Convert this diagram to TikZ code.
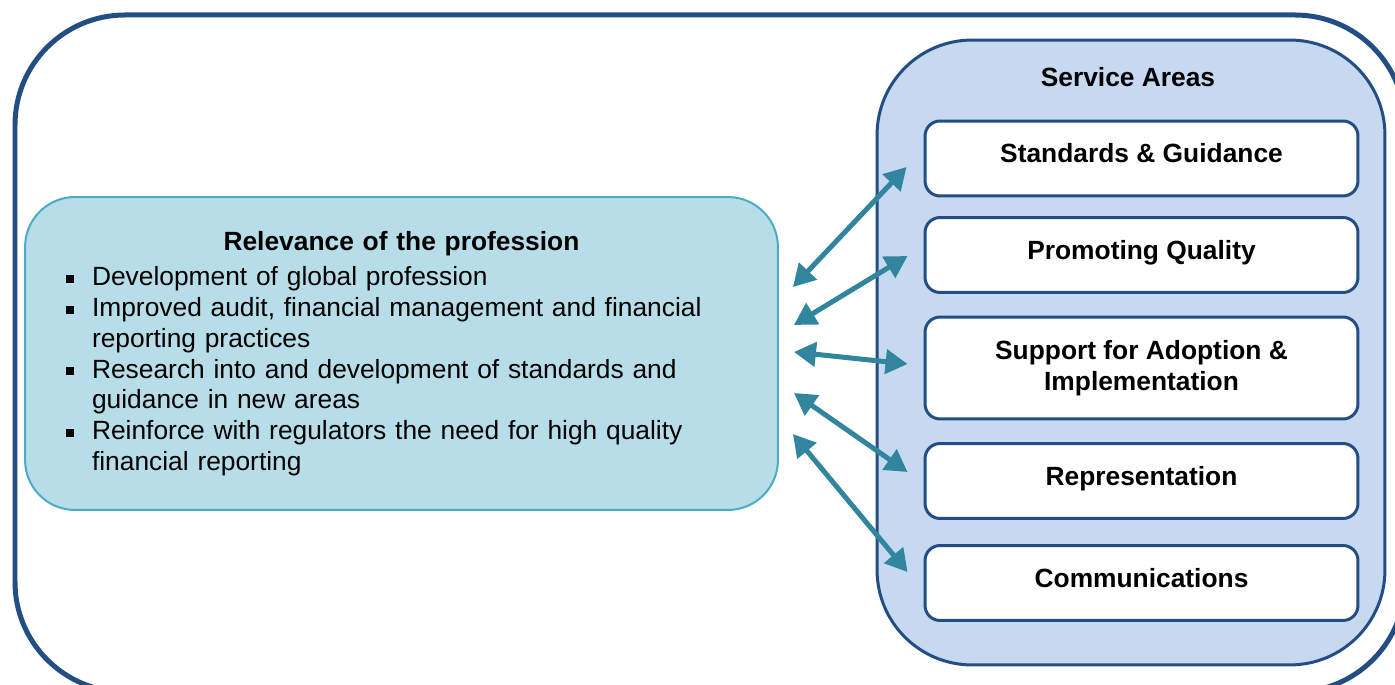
\documentclass[tikz,border=0pt]{standalone}
\usepackage{fontspec}
\setmainfont{Liberation Sans}
\usepackage{enumitem}
\usetikzlibrary{arrows.meta}
\definecolor{navy}{RGB}{35,78,132}
\definecolor{panelblue}{RGB}{198,217,240}
\definecolor{aqua}{RGB}{183,222,232}
\definecolor{aquaedge}{RGB}{75,172,198}
\definecolor{linkcol}{RGB}{49,133,156}
\newcommand{\sqbullet}{\rule[0.06cm]{0.16cm}{0.16cm}}
\begin{document}
\begin{tikzpicture}[x=0.02cm,y=-0.02cm,
  font=\fontsize{15}{17.5}\selectfont,
  outer/.style={draw=navy,line width=0.1cm,rounded corners=2.2cm},
  panelbox/.style={draw=navy,fill=panelblue,line width=0.06cm,rounded corners=1.9cm,minimum width=10.16cm,minimum height=12.5cm},
  area/.style={draw=navy,fill=white,line width=0.06cm,rounded corners=0.3cm,minimum width=8.66cm,minimum height=1.5cm,align=center,font=\fontsize{15}{17.5}\selectfont\bfseries},
  oneline/.style={area,text height=0.38cm,text depth=0.2cm},
  relbox/.style={draw=aquaedge,fill=aqua,line width=0.04cm,rounded corners=1cm,minimum height=6.26cm,text width=13.42cm,inner xsep=0.82cm},
  link/.style={draw=linkcol,line width=0.1cm,{Triangle[length=0.44cm,width=0.48cm]}-{Triangle[length=0.44cm,width=0.48cm]}}]
\useasboundingbox (0,0) rectangle (1395,685);
\draw[outer] (15,15) rectangle (1405,692);
\node[panelbox] (svc) at (1131,352.5) {};
\node[font=\fontsize{15}{17.5}\selectfont\bfseries] (hd) at (1128,77) {Service Areas};
\node[oneline] (sg) at (1141.5,158.5) {Standards \& Guidance};
\node[oneline] (pq) at (1141.5,255) {Promoting Quality};
\node[area,minimum height=2.04cm] (sa) at (1141.5,368) {Support for Adoption \&\\Implementation};
\node[oneline] (rp) at (1141.5,481) {Representation};
\node[oneline] (cm) at (1141.5,583) {Communications};
\node[relbox] (rel) at (401.5,353.5) {{\centering\bfseries Relevance of the profession\par}
\begin{itemize}[label=\sqbullet,leftmargin=0.52cm,labelwidth=0.16cm,labelsep=0.36cm,itemsep=0pt,parsep=0pt,topsep=0.1cm,partopsep=0pt]
\item Development of global profession
\item Improved audit, financial management and financial\\reporting practices
\item Research into and development of standards and\\guidance in new areas
\item Reinforce with regulators the need for high quality\\financial reporting
\end{itemize}};
\draw[link] ([shift={(14,-66.5)}]rel.east) -- ([shift={(-17,8.5)}]sg.west);
\draw[link] ([shift={(15,-28.5)}]rel.east) -- ([shift={(-16,1)}]pq.west);
\draw[link] ([shift={(15,-1.5)}]rel.east) -- ([shift={(-16,-4)}]sa.west);
\draw[link] ([shift={(15,39.5)}]rel.east) -- ([shift={(-16,-9)}]rp.west);
\draw[link] ([shift={(14,80.5)}]rel.east) -- ([shift={(-16,-11)}]cm.west);
\end{tikzpicture}
\end{document}
